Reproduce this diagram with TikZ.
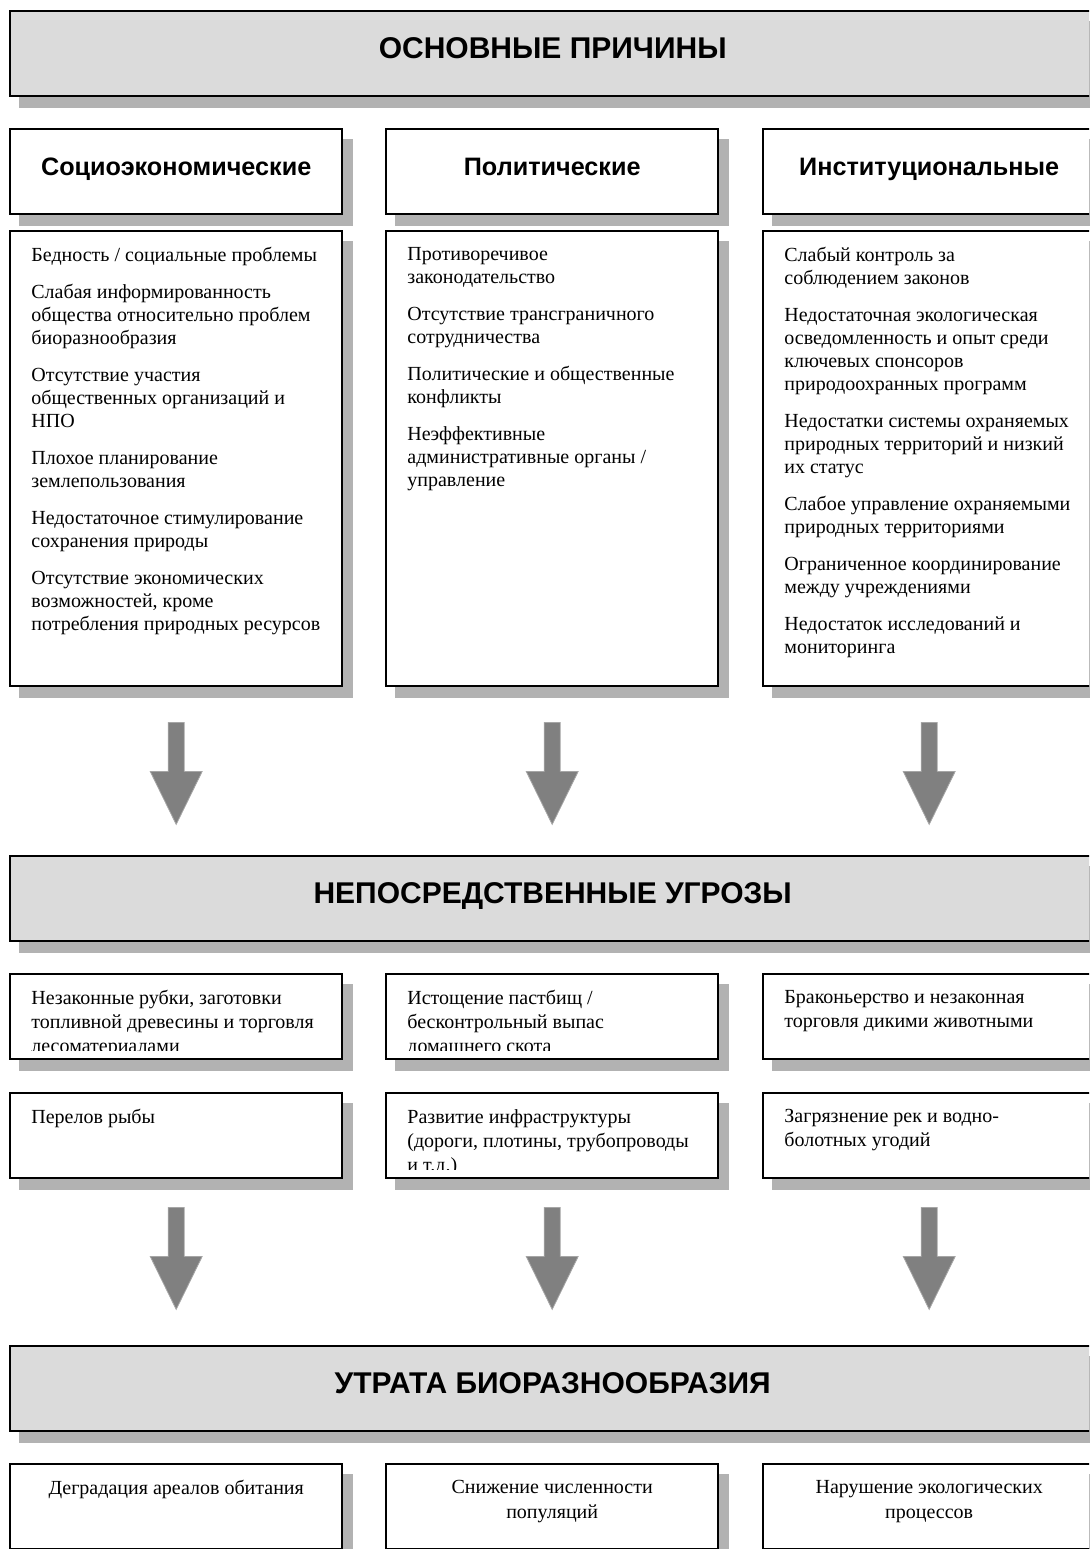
\documentclass[tikz,border=0pt]{standalone}
\usepackage{fontspec}
\setmainfont{Liberation Serif}
\setsansfont{Liberation Sans}
\usetikzlibrary{positioning,backgrounds,calc}

\def\lead{11.5pt}
\newcommand{\bodyfont}{\rmfamily\fontsize{10}{\lead}\selectfont}

\begin{document}
\begin{tikzpicture}[x=0.5pt,y=-0.5pt,
  box/.style={draw,line width=1.2pt,fill=white,anchor=north west,minimum width=166pt,minimum height=42.5pt,inner sep=0pt},
  banner/.style={box,fill=black!14,minimum width=542.5pt,font=\sffamily\bfseries\fontsize{15}{17}\selectfont,text height=10.7pt,text depth=5.5pt},
  head/.style={box,font=\sffamily\bfseries\fontsize{12.6}{14}\selectfont,text height=9pt,text depth=5.5pt},
  intxt/.style={draw=none,fill=none,minimum width=0pt,minimum height=0pt,text height=,text depth=,
    anchor=north west,inner sep=0pt,align=left,font=\bodyfont},
  txt/.style={path picture={
    \clip ([yshift=4.5pt]path picture bounding box.south west) rectangle (path picture bounding box.north east);
    \node[intxt] at ([shift={(10pt,-7.5pt)}]path picture bounding box.north west) {#1};}},
  ctxt/.style={path picture={
    \node[intxt,anchor=north,align=center] at ([yshift=-7.5pt]path picture bounding box.north) {#1};}},
  bigarrow/.style={fill=black!50,draw=black!35,line width=0.4pt},
  shade/.style={fill=black!30}]
\useasboundingbox (0,0) rectangle (1089,1549);
\clip (0,0) rectangle (1089,1549);

% causes
\node[banner] (top) at (9,10) {ОСНОВНЫЕ ПРИЧИНЫ};
\node[head] (soc) at (9,128) {Социоэкономические};
\node[head] (pol) at (385,128) {Политические};
\node[head] (inst) at (762,128) {Институциональные};

\node[box,minimum height=227.5pt,txt={Бедность / социальные проблемы\\[7pt]
  Слабая информированность\\общества относительно проблем\\биоразнообразия\\[7pt]
  Отсутствие участия\\общественных организаций и\\НПО\\[7pt]
  Плохое планирование\\землепользования\\[7pt]
  Недостаточное стимулирование\\сохранения природы\\[7pt]
  Отсутствие экономических\\возможностей, кроме\\потребления природных ресурсов}] (csoc) at (9,230) {};
\node[box,minimum height=227.5pt,txt={Противоречивое\\законодательство\\[7pt]
  Отсутствие трансграничного\\сотрудничества\\[7pt]
  Политические и общественные\\конфликты\\[7pt]
  Неэффективные\\административные органы /\\управление}] (cpol) at (385,230) {};
\node[box,minimum height=227.5pt,txt={Слабый контроль за\\соблюдением законов\\[7pt]
  Недостаточная экологическая\\осведомленность и опыт среди\\ключевых спонсоров\\природоохранных программ\\[7pt]
  Недостатки системы охраняемых\\природных территорий и низкий\\их статус\\[7pt]
  Слабое управление охраняемыми\\природных территориями\\[7pt]
  Ограниченное координирование\\между учреждениями\\[7pt]
  Недостаток исследований и\\мониторинга}] (cinst) at (762,230) {};

% threats
\node[banner] (threat) at (9,855) {НЕПОСРЕДСТВЕННЫЕ УГРОЗЫ};
\begin{scope}
\def\lead{12pt}
\node[box,txt={Незаконные рубки, заготовки\\топливной древесины и торговля\\лесоматериалами}] (t1) at (9,973) {};
\node[box,txt={Истощение пастбищ /\\бесконтрольный выпас\\домашнего скота}] (t2) at (385,973) {};
\node[box,txt={Браконьерство и незаконная\\торговля дикими животными}] (t3) at (762,973) {};
\node[box,txt={Перелов рыбы}] (t4) at (9,1092) {};
\node[box,txt={Развитие инфраструктуры\\(дороги, плотины, трубопроводы\\и т.д.)}] (t5) at (385,1092) {};
\node[box,txt={Загрязнение рек и водно-\\болотных угодий}] (t6) at (762,1092) {};
\end{scope}

% loss
\node[banner] (loss) at (9,1345) {УТРАТА БИОРАЗНООБРАЗИЯ};
\begin{scope}
\def\lead{12.5pt}
\node[box,ctxt={Деградация ареалов обитания}] (l1) at (9,1463) {};
\node[box,ctxt={Снижение численности\\популяций}] (l2) at (385,1463) {};
\node[box,ctxt={Нарушение экологических\\процессов}] (l3) at (762,1463) {};
\end{scope}

% arrows
\foreach \n/\d in {csoc/35,cpol/35,cinst/35,t4/28,t5/28,t6/28}
  \filldraw[bigarrow] ($(\n.south)+(-8,\d)$) -- ++(16,0) -- ++(0,49) -- ++(18,0)
    -- ++(-26,53) -- ++(-26,-53) -- ++(18,0) -- cycle;

\begin{scope}[on background layer]
\foreach \n in {top,soc,pol,inst,csoc,cpol,cinst,threat,t1,t2,t3,t4,t5,t6,loss,l1,l2,l3}
  \fill[shade] ($(\n.south west)+(10,11)$) rectangle ($(\n.north east)+(10,11)$);
\end{scope}
\end{tikzpicture}
\end{document}
